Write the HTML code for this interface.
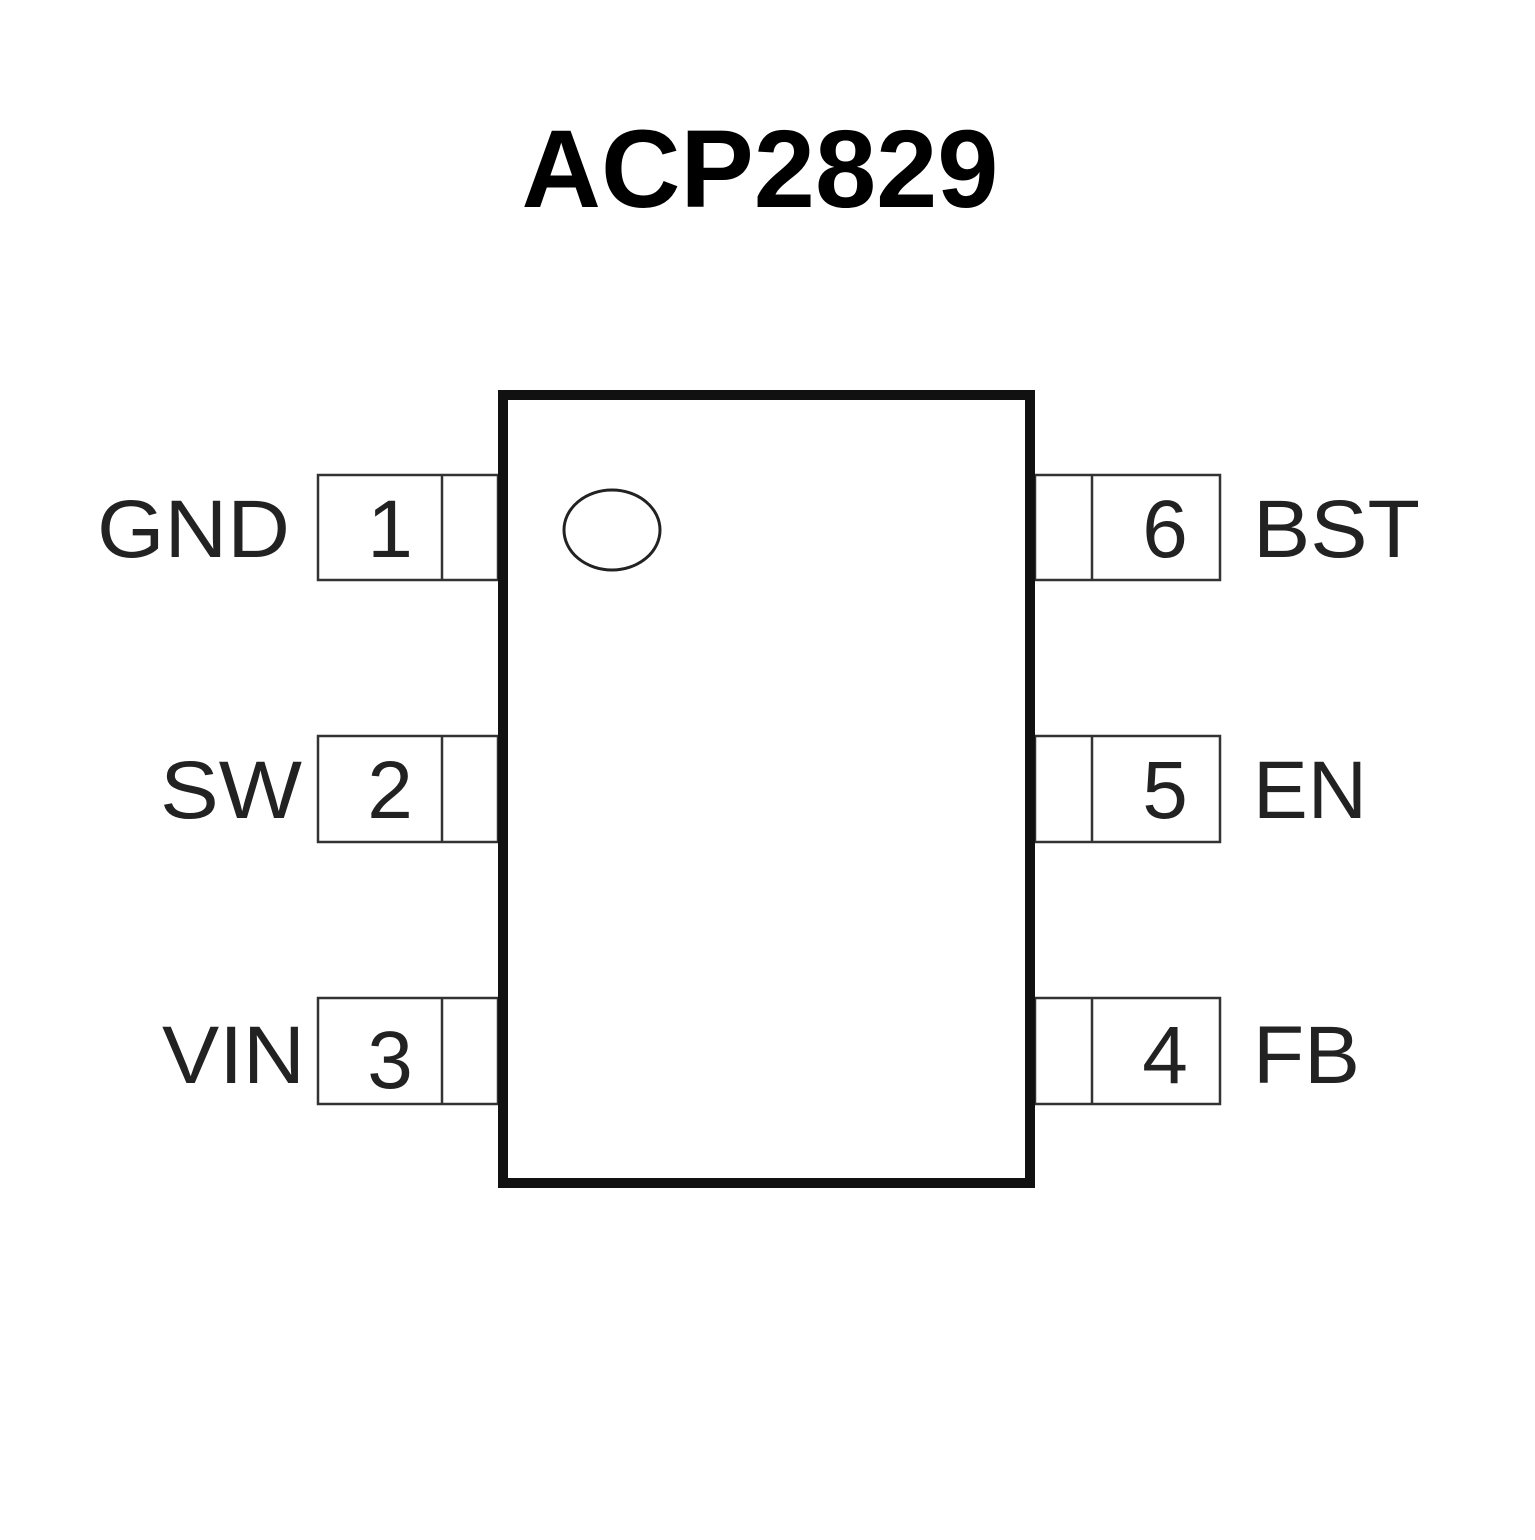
<!DOCTYPE html>
<html><head><style>html,body{margin:0;padding:0;background:#fff}</style></head><body>
<svg width="1535" height="1535" viewBox="0 0 1535 1535" xmlns="http://www.w3.org/2000/svg">
<rect width="1535" height="1535" fill="#fff"/>
<text x="760" y="207" font-family="Liberation Sans, sans-serif" font-weight="bold" font-size="110" text-anchor="middle" fill="#000">ACP2829</text>
<g fill="none" stroke="#333" stroke-width="2.5">
<rect x="318" y="475" width="180" height="105"/><line x1="442" y1="475" x2="442" y2="580"/>
<rect x="318" y="736" width="180" height="106"/><line x1="442" y1="736" x2="442" y2="842"/>
<rect x="318" y="998" width="180" height="106"/><line x1="442" y1="998" x2="442" y2="1104"/>
<rect x="1035" y="475" width="185" height="105"/><line x1="1092" y1="475" x2="1092" y2="580"/>
<rect x="1035" y="736" width="185" height="106"/><line x1="1092" y1="736" x2="1092" y2="842"/>
<rect x="1035" y="998" width="185" height="106"/><line x1="1092" y1="998" x2="1092" y2="1104"/>
</g>
<rect x="503" y="395" width="527" height="788" fill="#fff" stroke="#111" stroke-width="10"/>
<ellipse cx="612" cy="530" rx="48" ry="40" fill="none" stroke="#222" stroke-width="3"/>
<g font-family="Liberation Sans, sans-serif" font-size="82" fill="#222">
<text x="97" y="557" textLength="193" lengthAdjust="spacingAndGlyphs">GND</text>
<text x="160" y="818" textLength="142" lengthAdjust="spacingAndGlyphs">SW</text>
<text x="162" y="1083" textLength="143" lengthAdjust="spacingAndGlyphs">VIN</text>
<text x="390" y="557" text-anchor="middle">1</text>
<text x="390" y="818" text-anchor="middle">2</text>
<text x="390" y="1088" text-anchor="middle">3</text>
<text x="1165" y="557" text-anchor="middle">6</text>
<text x="1165" y="818" text-anchor="middle">5</text>
<text x="1165" y="1083" text-anchor="middle">4</text>
<text x="1253" y="557" textLength="167" lengthAdjust="spacingAndGlyphs">BST</text>
<text x="1253" y="818" textLength="114" lengthAdjust="spacingAndGlyphs">EN</text>
<text x="1253" y="1083" textLength="107" lengthAdjust="spacingAndGlyphs">FB</text>
</g>
</svg>
</body></html>
